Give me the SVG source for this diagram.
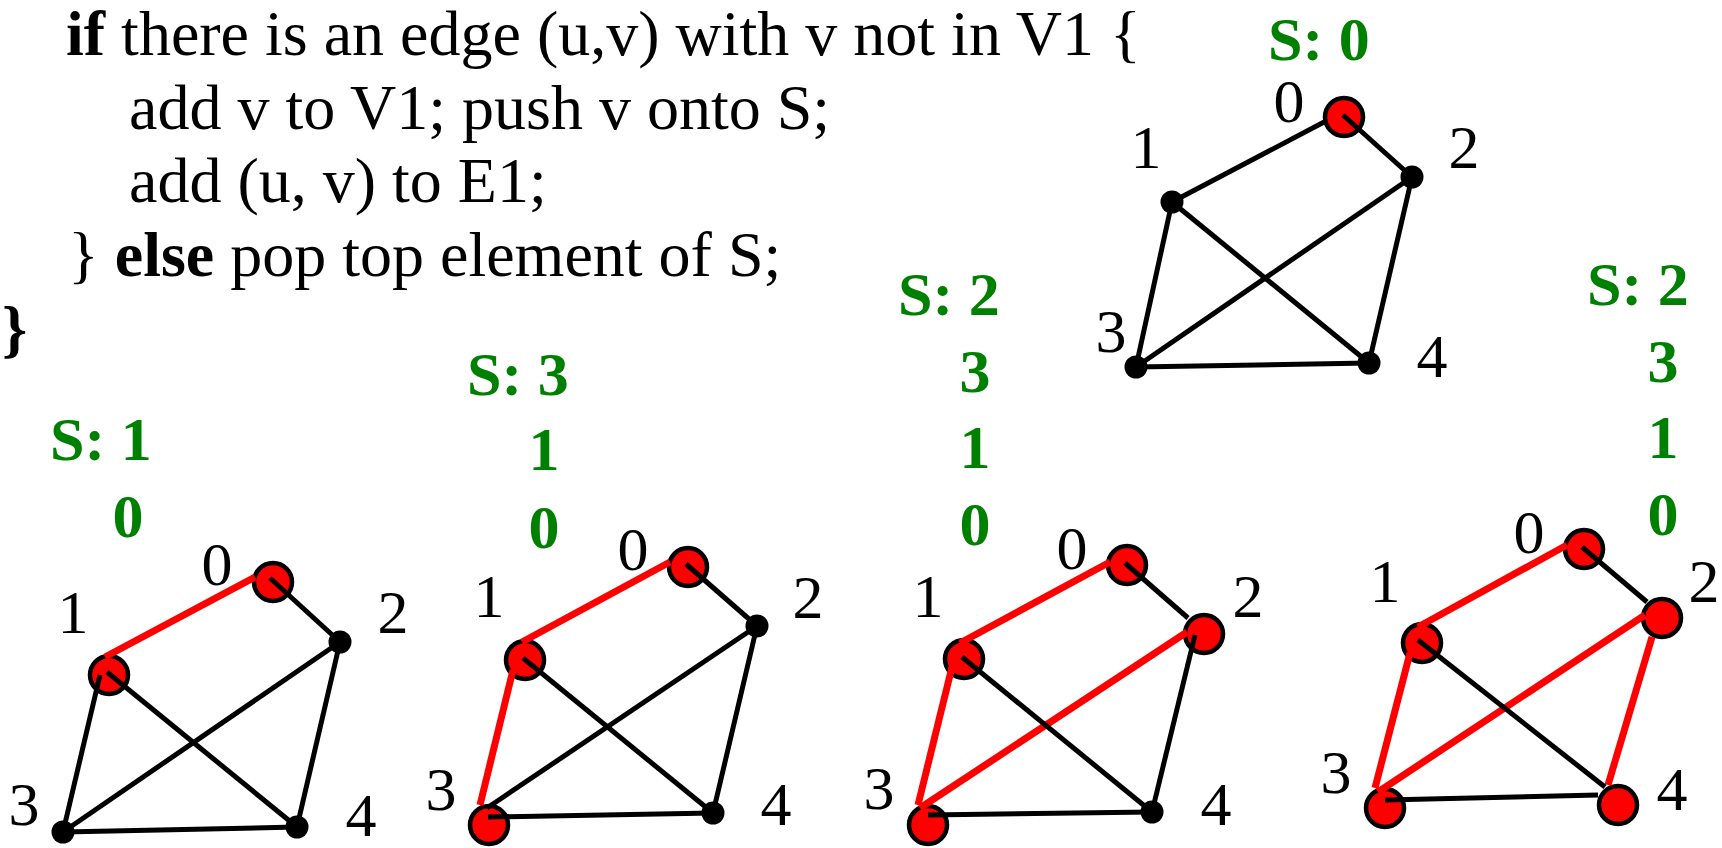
<svg xmlns="http://www.w3.org/2000/svg" width="1722" height="848" viewBox="0 0 1722 848">
<style>
  .code { font-family: "Liberation Serif", "Times New Roman", serif; font-size: 64px; fill: #000; }
  .b { font-weight: bold; }
  .lbl { font-family: "Liberation Serif", "Times New Roman", serif; font-size: 62px; fill: #000; text-anchor: middle; }
  .stk { font-family: "Liberation Serif", "Times New Roman", serif; font-size: 62px; font-weight: bold; fill: #008000; }
  .stkc { text-anchor: middle; }
  .dot { fill: #000; }
  .vis { fill: #FF0000; stroke: #000; stroke-width: 4.5; }
  .e { stroke: #000; stroke-width: 5; stroke-linecap: butt; fill: none; }
  .r { stroke: #FF0000; stroke-width: 7; stroke-linecap: butt; fill: none; }
</style>
<rect width="1722" height="848" fill="#fff"/>

<g id="code">
  <text class="code" x="66" y="55"><tspan class="b">if</tspan> there is an edge (u,v) with v not in V1 {</text>
  <text class="code" x="129" y="129">add v to V1; push v onto S;</text>
  <text class="code" x="129" y="202">add (u, v) to E1;</text>
  <text class="code" x="68" y="276">} <tspan class="b">else</tspan> pop top element of S;</text>
  <text class="code b" x="2" y="350">}</text>
</g>

<!-- Stacks -->
<g id="stack-top">
  <text class="stk" x="1268" y="60">S: 0</text>
</g>
<g id="stack-1">
  <text class="stk" x="50" y="460">S: 1</text>
  <text class="stk stkc" x="128" y="537">0</text>
</g>
<g id="stack-2">
  <text class="stk" x="467" y="395">S: 3</text>
  <text class="stk stkc" x="544" y="470">1</text>
  <text class="stk stkc" x="544" y="548">0</text>
</g>
<g id="stack-3">
  <text class="stk" x="898" y="315">S: 2</text>
  <text class="stk stkc" x="975" y="392">3</text>
  <text class="stk stkc" x="975" y="468">1</text>
  <text class="stk stkc" x="975" y="545">0</text>
</g>
<g id="stack-4">
  <text class="stk" x="1587" y="305">S: 2</text>
  <text class="stk stkc" x="1663" y="382">3</text>
  <text class="stk stkc" x="1663" y="458">1</text>
  <text class="stk stkc" x="1663" y="535">0</text>
</g>

<!-- Top graph -->
<g id="gT-n0"><circle class="vis" cx="1344" cy="117" r="19"/><text class="lbl" x="1289" y="122">0</text></g>
<g id="gT-n1"><circle class="dot" cx="1172" cy="202" r="11.5"/><text class="lbl" x="1146" y="168">1</text></g>
<g id="gT-n2"><circle class="dot" cx="1412" cy="177" r="11.5"/><text class="lbl" x="1464" y="168">2</text></g>
<g id="gT-n3"><circle class="dot" cx="1136" cy="367" r="11.5"/><text class="lbl" x="1111" y="352">3</text></g>
<g id="gT-n4"><circle class="dot" cx="1369" cy="363" r="11.5"/><text class="lbl" x="1432" y="377">4</text></g>

<!-- Graph 1 -->
<g id="g1-n0"><circle class="vis" cx="273" cy="582" r="19"/><text class="lbl" x="217" y="585">0</text></g>
<g id="g1-n1"><circle class="vis" cx="109" cy="675" r="19"/><text class="lbl" x="73" y="633">1</text></g>
<g id="g1-n2"><circle class="dot" cx="340" cy="642" r="11.5"/><text class="lbl" x="393" y="633">2</text></g>
<g id="g1-n3"><circle class="dot" cx="63" cy="832" r="11.5"/><text class="lbl" x="24" y="825">3</text></g>
<g id="g1-n4"><circle class="dot" cx="297" cy="827" r="11.5"/><text class="lbl" x="361" y="836">4</text></g>

<!-- Graph 2 -->
<g id="g2-n0"><circle class="vis" cx="688" cy="567" r="19"/><text class="lbl" x="633" y="570">0</text></g>
<g id="g2-n1"><circle class="vis" cx="525" cy="660" r="19"/><text class="lbl" x="489" y="617">1</text></g>
<g id="g2-n2"><circle class="dot" cx="757" cy="626" r="11.5"/><text class="lbl" x="808" y="618">2</text></g>
<g id="g2-n3"><circle class="vis" cx="489" cy="825" r="19"/><text class="lbl" x="441" y="810">3</text></g>
<g id="g2-n4"><circle class="dot" cx="713" cy="813" r="11.5"/><text class="lbl" x="776" y="825">4</text></g>

<!-- Graph 3 -->
<g id="g3-n0"><circle class="vis" cx="1127" cy="565" r="19"/><text class="lbl" x="1072" y="569">0</text></g>
<g id="g3-n1"><circle class="vis" cx="964" cy="659" r="19"/><text class="lbl" x="928" y="617">1</text></g>
<g id="g3-n2"><circle class="vis" cx="1204" cy="634" r="19"/><text class="lbl" x="1248" y="617">2</text></g>
<g id="g3-n3"><circle class="vis" cx="928" cy="825" r="19"/><text class="lbl" x="879" y="809">3</text></g>
<g id="g3-n4"><circle class="dot" cx="1152" cy="812" r="11.5"/><text class="lbl" x="1216" y="825">4</text></g>

<!-- Graph 4 -->
<g id="g4-n0"><circle class="vis" cx="1584" cy="549" r="19"/><text class="lbl" x="1529" y="553">0</text></g>
<g id="g4-n1"><circle class="vis" cx="1422" cy="643" r="19"/><text class="lbl" x="1385" y="602">1</text></g>
<g id="g4-n2"><circle class="vis" cx="1662" cy="618" r="19"/><text class="lbl" x="1704" y="602">2</text></g>
<g id="g4-n3"><circle class="vis" cx="1385" cy="808" r="19"/><text class="lbl" x="1336" y="793">3</text></g>
<g id="g4-n4"><circle class="vis" cx="1618" cy="805" r="19"/><text class="lbl" x="1672" y="810">4</text></g>

<g id="connectors">
  <!-- Top graph -->
  <line class="e" x1="1326" y1="121" x2="1172" y2="202"/>
  <line class="e" x1="1343" y1="115" x2="1412" y2="177"/>
  <line class="e" x1="1172" y1="202" x2="1136" y2="367"/>
  <line class="e" x1="1172" y1="202" x2="1369" y2="363"/>
  <line class="e" x1="1412" y1="177" x2="1136" y2="367"/>
  <line class="e" x1="1412" y1="177" x2="1369" y2="363"/>
  <line class="e" x1="1136" y1="367" x2="1369" y2="363"/>

  <!-- Graph 1 -->
  <line class="r" x1="255" y1="577" x2="105" y2="657"/>
  <line class="e" x1="270" y1="578" x2="340" y2="642"/>
  <line class="e" x1="100" y1="675" x2="63" y2="832"/>
  <line class="e" x1="107" y1="672" x2="297" y2="827"/>
  <line class="e" x1="340" y1="642" x2="63" y2="832"/>
  <line class="e" x1="340" y1="642" x2="297" y2="827"/>
  <line class="e" x1="63" y1="832" x2="297" y2="827"/>

  <!-- Graph 2 -->
  <line class="r" x1="670" y1="562" x2="522" y2="642"/>
  <line class="r" x1="513" y1="670" x2="480" y2="805"/>
  <line class="e" x1="686" y1="564" x2="757" y2="626"/>
  <line class="e" x1="523" y1="658" x2="713" y2="813"/>
  <line class="e" x1="757" y1="626" x2="487" y2="808"/>
  <line class="e" x1="757" y1="626" x2="713" y2="813"/>
  <line class="e" x1="488" y1="817" x2="713" y2="813"/>

  <!-- Graph 3 -->
  <line class="r" x1="1110" y1="562" x2="960" y2="643"/>
  <line class="r" x1="952" y1="667" x2="918" y2="805"/>
  <line class="r" x1="1187" y1="632" x2="920" y2="808"/>
  <line class="e" x1="1125" y1="563" x2="1188" y2="618"/>
  <line class="e" x1="962" y1="657" x2="1152" y2="812"/>
  <line class="e" x1="1195" y1="635" x2="1152" y2="812"/>
  <line class="e" x1="928" y1="815" x2="1152" y2="812"/>

  <!-- Graph 4 -->
  <line class="r" x1="1567" y1="545" x2="1418" y2="627"/>
  <line class="r" x1="1410" y1="653" x2="1375" y2="788"/>
  <line class="r" x1="1645" y1="615" x2="1378" y2="792"/>
  <line class="r" x1="1652" y1="637" x2="1608" y2="785"/>
  <line class="e" x1="1582" y1="547" x2="1647" y2="602"/>
  <line class="e" x1="1418" y1="640" x2="1605" y2="787"/>
  <line class="e" x1="1385" y1="800" x2="1598" y2="795"/>
</g>
</svg>
